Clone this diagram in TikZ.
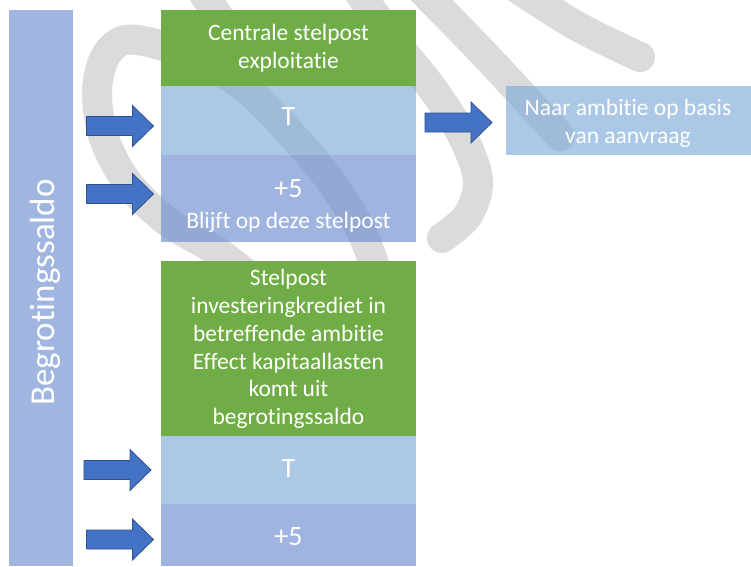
\documentclass[tikz,border=0pt]{standalone}
\usepackage{fontspec}
\setmainfont{Carlito}[Ligatures=NoCommon, RawFeature={-liga;-clig}]
\definecolor{boxgreen}{RGB}{112,173,71}
\definecolor{barblue}{RGB}{160,182,224}
\definecolor{tblue}{RGB}{127,171,217}
\definecolor{pblue}{RGB}{109,141,206}
\definecolor{arrfill}{RGB}{68,114,196}
\definecolor{arrline}{RGB}{47,82,143}
\definecolor{wmgray}{RGB}{219,219,219}
\begin{document}
\begin{tikzpicture}[x=1pt,y=-1pt,
  wm/.style={line width=30pt, draw=wmgray, line cap=round, line join=round},
  boxbase/.style={draw=none, anchor=north west, inner sep=0pt, outer sep=0pt, minimum width=255pt},
  greenbox/.style={boxbase, fill=boxgreen},
  tbox/.style={boxbase, fill=tblue, fill opacity=0.65},
  pbox/.style={boxbase, fill=pblue, fill opacity=0.65},
  barbox/.style={boxbase, fill=barblue, minimum width=64.5pt},
  txt/.style={text=white, inner sep=0pt, align=center, font=\fontsize{23.5}{28}\selectfont},
  bigtxt/.style={text=white, inner sep=0pt, font=\fontsize{28}{33}\selectfont},
  bartxt/.style={text=white, inner sep=0pt, font=\fontsize{35}{42}\selectfont},
  blockarr/.pic={\draw[fill=arrfill, draw=arrline, line width=0.8pt, line join=miter]
     (0,-9.5) -- (46,-9.5) -- (46,-20.5) -- (67,0) -- (46,20.5) -- (46,9.5) -- (0,9.5) -- cycle;}
]
\useasboundingbox (0,0) rectangle (751,566);
\clip (0,0) rectangle (751,566);
\fill[white] (0,0) rectangle (751,566);

% watermark
\draw[wm] plot[smooth, tension=0.55] coordinates {(272,295) (218,252) (168,222) (128,183) (104,138) (97,92) (105,57) (125,40) (160,45) (205,62) (250,92) (292,135) (330,180) (358,225) (372,258) (385,300)};
\draw[wm] (195,-20) -- (240,50);
\draw[wm] plot[smooth, tension=0.55] coordinates {(350,-20) (392,38) (432,88) (462,135) (478,180) (468,215) (442,238)};
\draw[wm] plot[smooth, tension=0.55] coordinates {(412,-20) (485,55) (560,136)};
\draw[wm] plot[smooth, tension=0.55] coordinates {(505,-20) (575,25) (640,57)};

% left bar
\node[barbox, minimum height=556pt] (bar) at (8.5,10) {};
\node[bartxt, rotate=90] (bart) at (45,292.5) {Begrotingssaldo};

% upper column
\node[greenbox, minimum height=76pt] (g1) at (161,10) {};
\node[tbox, minimum height=69pt] (t1) at (161,86) {};
\node[pbox, minimum height=87pt] (p1) at (161,155) {};
\node[txt] (g1t) at (288.5,48.5) {Centrale stelpost\\exploitatie};
\node[bigtxt, anchor=base] (t1t) at (288.5,125) {T};
\node[bigtxt, anchor=base] (p1a) at (288.5,197) {+5};
\node[txt, anchor=base] (p1b) at (288.5,228) {Blijft op deze stelpost};

% right box
\node[tbox, minimum width=245pt, minimum height=69pt] (r1) at (506,86) {};
\node[txt] (r1t) at (628,123.5) {Naar ambitie op basis\\van aanvraag};

% lower column
\node[greenbox, minimum height=175pt] (g2) at (161,261) {};
\node[tbox, minimum height=68pt] (t2) at (161,436) {};
\node[pbox, minimum height=62pt] (p2) at (161,504) {};
\node[txt, font=\fontsize{23.5}{27.8}\selectfont] (g2t) at (288.5,349) {Stelpost\\investeringkrediet in\\betreffende ambitie\\Effect kapitaallasten\\komt uit\\begrotingssaldo};
\node[bigtxt, anchor=base] (t2t) at (288.5,477) {T};
\node[bigtxt, anchor=base] (p2t) at (288.5,545) {+5};

% block arrows
\pic at (86.5,126) {blockarr};
\pic at (86.5,194) {blockarr};
\pic at (84,470) {blockarr};
\pic at (86.5,539.5) {blockarr};
\pic at (425,122.5) {blockarr};
\end{tikzpicture}
\end{document}
